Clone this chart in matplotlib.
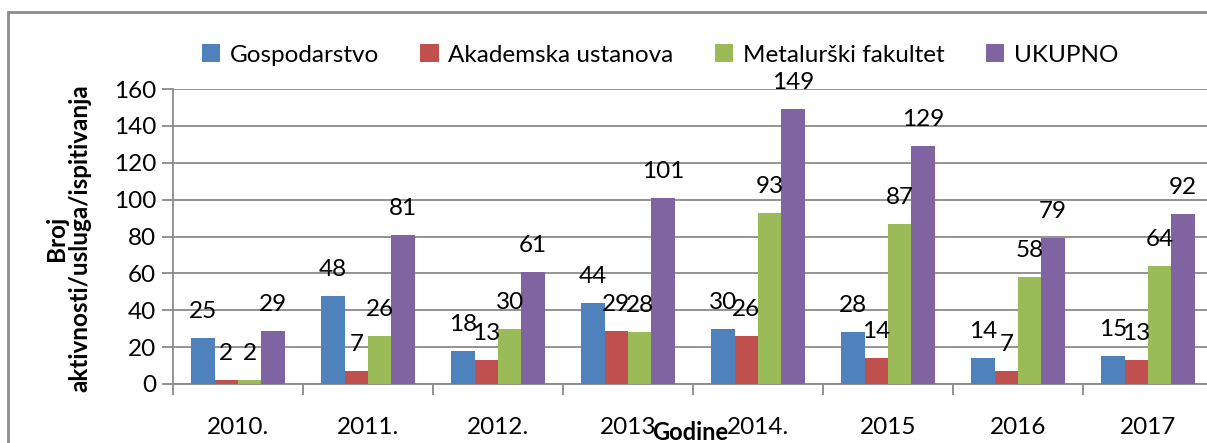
import matplotlib
matplotlib.use("Agg")
import matplotlib.pyplot as plt
import numpy as np
from matplotlib.patches import Rectangle

years = ["2010.", "2011.", "2012.", "2013", "2014.", "2015", "2016", "2017"]
series_names = ["Gospodarstvo", "Akademska ustanova", "Metalurški fakultet", "UKUPNO"]
gospodarstvo = [25, 48, 18, 44, 30, 28, 14, 15]
akademska = [2, 7, 13, 29, 26, 14, 7, 13]
metalurski = [2, 26, 30, 28, 93, 87, 58, 64]
ukupno = [29, 81, 61, 101, 149, 129, 79, 92]
colors = ["#4F81BD", "#C0504D", "#9BBB59", "#8064A2"]

plt.rcParams['font.family'] = ['Lato', 'DejaVu Sans']

W, H = 1207, 443
fig = plt.figure(figsize=(W / 100, H / 100), dpi=100)
fig.patch.set_facecolor("white")

# outer chart border
fig.patches.append(Rectangle((8 / W, -0.1), 1.2, 1 - 12 / H + 0.1, transform=fig.transFigure,
                             fill=False, edgecolor="#8c8c8c", linewidth=2, zorder=0))

left, right = 173 / W, (173 + 1040) / W
bottom, top = 1 - 384 / H, 1 - 89 / H
ax = fig.add_axes([left, bottom, right - left, top - bottom])

x = np.arange(len(years))
bw = 0.18
data = [gospodarstvo, akademska, metalurski, ukupno]
for i, (vals, name, c) in enumerate(zip(data, series_names, colors)):
    pos = x + (i - 1.5) * bw
    ax.bar(pos, vals, bw, color=c, label=name, zorder=3)
    for p, v in zip(pos, vals):
        ax.annotate(str(v), (p, v), xytext=(0, 19), textcoords="offset points",
                    ha="center", va="center", fontsize=17.5, color="black", zorder=5)

ax.set_xlim(-0.5, len(years) - 0.5)
ax.set_ylim(0, 160)
ax.set_yticks(range(0, 161, 20))
ax.yaxis.grid(True, color="#8a8a8a", linewidth=1.3, zorder=0)
ax.set_axisbelow(True)

ax.set_xticks(np.arange(-0.5, len(years), 1))
ax.set_xticklabels([])
ax.set_xticks(x, minor=True)
ax.set_xticklabels(years, minor=True, fontsize=17.5)
ax.tick_params(axis="x", which="minor", length=0, pad=24)
ax.tick_params(axis="x", which="major", length=8, color="#8a8a8a", width=1.3, direction="out")
ax.tick_params(axis="y", length=8, color="#8a8a8a", width=1.3, labelsize=17.5, pad=4)

for s in ["top", "right"]:
    ax.spines[s].set_visible(False)
for s in ["left", "bottom"]:
    ax.spines[s].set_color("#8a8a8a")
    ax.spines[s].set_linewidth(1.3)

fig.text(68 / W, 1 - 238 / H, "Broj\naktivnosti/usluga/ispitivanja", rotation=90,
         ha="center", va="center", fontsize=17.5, fontweight="bold", linespacing=1.05)
fig.text(690 / W, 1 - 433 / H, "Godine", ha="center", va="center", fontsize=17, fontweight="bold")

fig.legend(loc="center", bbox_to_anchor=(660 / W, 1 - 55 / H), ncol=4, frameon=False,
           fontsize=17.5, handlelength=0.75, handleheight=0.75, handletextpad=0.4,
           columnspacing=1.7)

fig.savefig("out.png", dpi=100)
